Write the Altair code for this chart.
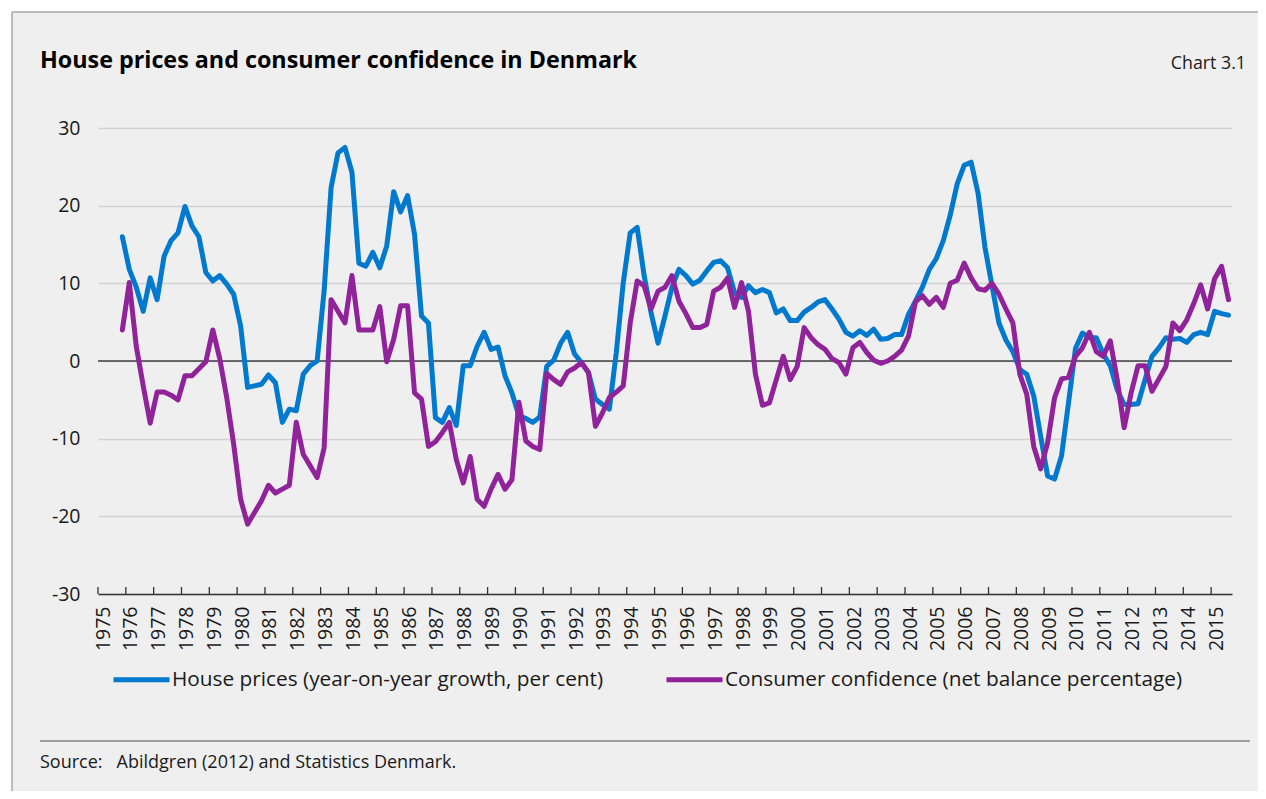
import altair as alt
import pandas as pd

# ---------------- data (quarterly, first point 1975 Q4) ----------------
start_year = 1975
start_quarter = 4

house_prices = [
    16.0, 11.8, 9.5, 6.4, 10.7, 7.9, 13.5, 15.5, 16.5, 19.9,
    17.4, 16.0, 11.4, 10.3, 11.0, 9.9, 8.6, 4.5, -3.4, -3.2,
    -3.0, -1.8, -2.8, -7.9, -6.2, -6.4, -1.7, -0.6, 0.0, 9.0,
    22.3, 26.8, 27.5, 24.3, 12.6, 12.2, 14.0, 12.0, 14.8, 21.8,
    19.2, 21.3, 16.3, 5.8, 4.9, -7.3, -7.9, -6.0, -8.3, -0.6,
    -0.6, 1.9, 3.7, 1.5, 1.8, -1.9, -4.1, -7.1, -7.4, -7.9,
    -7.2, -0.7, 0.1, 2.3, 3.7, 0.9, -0.2, -1.5, -4.9, -5.6,
    -6.2, 1.1, 10.1, 16.5, 17.2, 11.0, 6.2, 2.3, 5.8, 9.5,
    11.8, 11.0, 9.9, 10.4, 11.6, 12.7, 12.9, 12.0, 8.8, 8.2,
    9.7, 8.8, 9.2, 8.8, 6.2, 6.7, 5.2, 5.2, 6.3, 6.9,
    7.6, 7.9, 6.7, 5.4, 3.7, 3.2, 3.9, 3.3, 4.1, 2.8,
    2.9, 3.4, 3.4, 6.0, 7.7, 9.5, 11.8, 13.2, 15.5, 18.8,
    22.8, 25.2, 25.6, 21.6, 14.6, 9.7, 4.9, 2.7, 1.2, -1.1,
    -1.7, -4.5, -9.7, -14.8, -15.2, -12.2, -5.4, 1.6, 3.6, 3.0,
    3.0, 0.9, -0.6, -3.7, -5.6, -5.6, -5.5, -2.4, 0.6, 1.7,
    3.0, 2.8, 2.9, 2.4, 3.4, 3.7, 3.4, 6.4, 6.1, 5.9,
]

consumer_confidence = [
    4.0, 10.1, 1.9, -3.2, -8.0, -4.0, -4.0, -4.4, -5.0, -1.9,
    -1.9, -1.0, -0.1, 4.0, 0.3, -4.7, -10.7, -17.8, -21.0, -19.5,
    -18.0, -16.0, -17.0, -16.5, -16.0, -7.9, -12.0, -13.5, -15.0, -11.2,
    7.9, 6.4, 4.9, 11.0, 4.0, 4.0, 4.0, 7.0, -0.1, 2.8,
    7.1, 7.1, -4.1, -4.9, -11.0, -10.4, -9.2, -7.9, -12.7, -15.7,
    -12.3, -17.8, -18.7, -16.5, -14.6, -16.5, -15.3, -5.3, -10.3, -11.0,
    -11.4, -1.6, -2.4, -3.0, -1.4, -0.9, -0.2, -1.5, -8.4, -6.7,
    -4.7, -4.0, -3.2, 4.9, 10.3, 9.7, 6.7, 9.0, 9.5, 11.0,
    7.7, 6.1, 4.3, 4.3, 4.7, 9.0, 9.5, 10.7, 6.9, 10.1,
    6.4, -1.7, -5.7, -5.4, -2.4, 0.6, -2.4, -0.7, 4.3, 3.0,
    2.1, 1.5, 0.3, -0.2, -1.7, 1.7, 2.4, 1.1, 0.1, -0.3,
    0.0, 0.6, 1.4, 3.2, 7.6, 8.4, 7.3, 8.2, 6.9, 10.0,
    10.4, 12.6, 10.7, 9.3, 9.1, 10.0, 8.6, 6.7, 4.9, -1.7,
    -4.3, -11.0, -13.9, -10.5, -4.7, -2.3, -2.1, 0.6, 1.7, 3.7,
    1.2, 0.6, 2.6, -2.4, -8.6, -4.1, -0.6, -0.6, -3.9, -2.3,
    -0.7, 4.9, 3.9, 5.3, 7.4, 9.8, 6.7, 10.6, 12.2, 7.9,
]

series_names = [
    "House prices (year-on-year growth, per cent)",
    "Consumer confidence (net balance percentage)",
]
series_colors = ["#0079cf", "#90229a"]
year_labels = list(range(1975, 2016))
y_ticks = [-30, -20, -10, 0, 10, 20, 30]

title_text = "House prices and consumer confidence in Denmark"
chart_no = "Chart 3.1"
source_text = "Source:\u00a0\u00a0\u00a0Abildgren (2012) and Statistics Denmark."

FONT = "Open Sans"
TXT = "#1a1a1a"
PANEL = "#efefef"

# ---------------- tidy table ----------------
n = len(house_prices)
t = [start_year + (start_quarter - 0.5) / 4 + 0.25 * k for k in range(n)]
df = pd.DataFrame({
    "t": t + t,
    "value": house_prices + consumer_confidence,
    "series": [series_names[0]] * n + [series_names[1]] * n,
})

W, H = 1134, 466

x_scale = alt.Scale(domain=[1975, 2015.75], nice=False, zero=False)
y_scale = alt.Scale(domain=[-30, 30], nice=False)
color_scale = alt.Scale(domain=series_names, range=series_colors)

x_axis = alt.Axis(
    values=year_labels, title=None, labelAngle=270, labelFont=FONT,
    labelFontSize=19.5, labelColor=TXT, labelPadding=12, labelOffset=5,
    ticks=False, grid=False, domainColor="#333333", domainWidth=1.5,
    labelExpr="'' + datum.value", labelOverlap=False, labelFlush=False,
)
y_axis = alt.Axis(
    values=y_ticks, title=None, labelFont=FONT, labelFontSize=19.5,
    labelColor=TXT, labelPadding=18, ticks=False, domain=False,
    grid=True, gridColor="#d2d2d2", gridWidth=1.5,
    labelExpr="'' + datum.value",
)
legend = alt.Legend(
    orient="none", legendX=13, legendY=521, direction="horizontal",
    title=None, symbolType="stroke", symbolSize=3136, symbolStrokeWidth=5,
    labelFont=FONT, labelFontSize=20.8, labelColor=TXT, labelOffset=0,
    columnPadding=52, labelLimit=800, padding=0,
)

# ---------------- decorative layers (outer white margin + frame lines) ----------------
margin_top = alt.Chart(pd.DataFrame({"a": [0]})).mark_rect(fill="white").encode(
    x=alt.value(-100), x2=alt.value(1300), y=alt.value(-130), y2=alt.value(-116))
margin_left = alt.Chart(pd.DataFrame({"a": [0]})).mark_rect(fill="white").encode(
    x=alt.value(-100), x2=alt.value(-86), y=alt.value(-130), y2=alt.value(900))
border_top = alt.Chart(pd.DataFrame({"a": [0]})).mark_rule(
    color="#a8a8a8", strokeWidth=1.5
).encode(x=alt.value(-86), x2=alt.value(1300), y=alt.value(-116))
border_left = alt.Chart(pd.DataFrame({"a": [0]})).mark_rule(
    color="#a8a8a8", strokeWidth=1.5
).encode(x=alt.value(-86), y=alt.value(-116), y2=alt.value(900))

separator = alt.Chart(pd.DataFrame({"a": [0]})).mark_rule(
    color="#a0a0a0", strokeWidth=2
).encode(x=alt.value(-58), x2=alt.value(1152), y=alt.value(613))

title = alt.Chart(pd.DataFrame({"text": [title_text]})).mark_text(
    align="left", baseline="alphabetic", font=FONT, fontSize=23.3,
    fontWeight="bold", color="#000000"
).encode(x=alt.value(-58), y=alt.value(-60), text="text:N")

chartno = alt.Chart(pd.DataFrame({"text": [chart_no]})).mark_text(
    align="right", baseline="alphabetic", font=FONT, fontSize=17.8, color=TXT
).encode(x=alt.value(1148), y=alt.value(-59), text="text:N")

source = alt.Chart(pd.DataFrame({"text": [source_text]})).mark_text(
    align="left", baseline="alphabetic", font=FONT, fontSize=18, color=TXT
).encode(x=alt.value(-58), y=alt.value(640), text="text:N")

zero_line = alt.Chart(pd.DataFrame({"v": [0]})).mark_rule(
    color="#404040", strokeWidth=1.5
).encode(y=alt.Y("v:Q", scale=y_scale, axis=y_axis))

ticks = alt.Chart(pd.DataFrame({"year": year_labels})).mark_rule(
    color="#333333", strokeWidth=1.3
).encode(x=alt.X("year:Q", scale=x_scale, axis=x_axis), y=alt.value(H), y2=alt.value(H - 7))

base = alt.Chart(df)

def series_layer(name):
    return base.transform_filter(alt.datum.series == name).mark_line(
        strokeWidth=5, strokeJoin="round", strokeCap="round"
    ).encode(
        x=alt.X("t:Q", scale=x_scale, axis=x_axis),
        y=alt.Y("value:Q", scale=y_scale, axis=y_axis),
        color=alt.Color("series:N", scale=color_scale, legend=legend),
    )

house = series_layer(series_names[0])
conf = series_layer(series_names[1])

chart = alt.layer(
    margin_top, margin_left, border_top, border_left, separator,
    title, chartno, source, zero_line, house, conf, ticks
).properties(
    width=W, height=H,
    autosize=alt.AutoSizeParams(type="none"),
    padding={"left": 90, "top": 120, "right": 26, "bottom": 197},
    background=PANEL,
).configure_view(stroke=None)

chart.save("out.html", embed_options={"renderer": "svg", "actions": False})
